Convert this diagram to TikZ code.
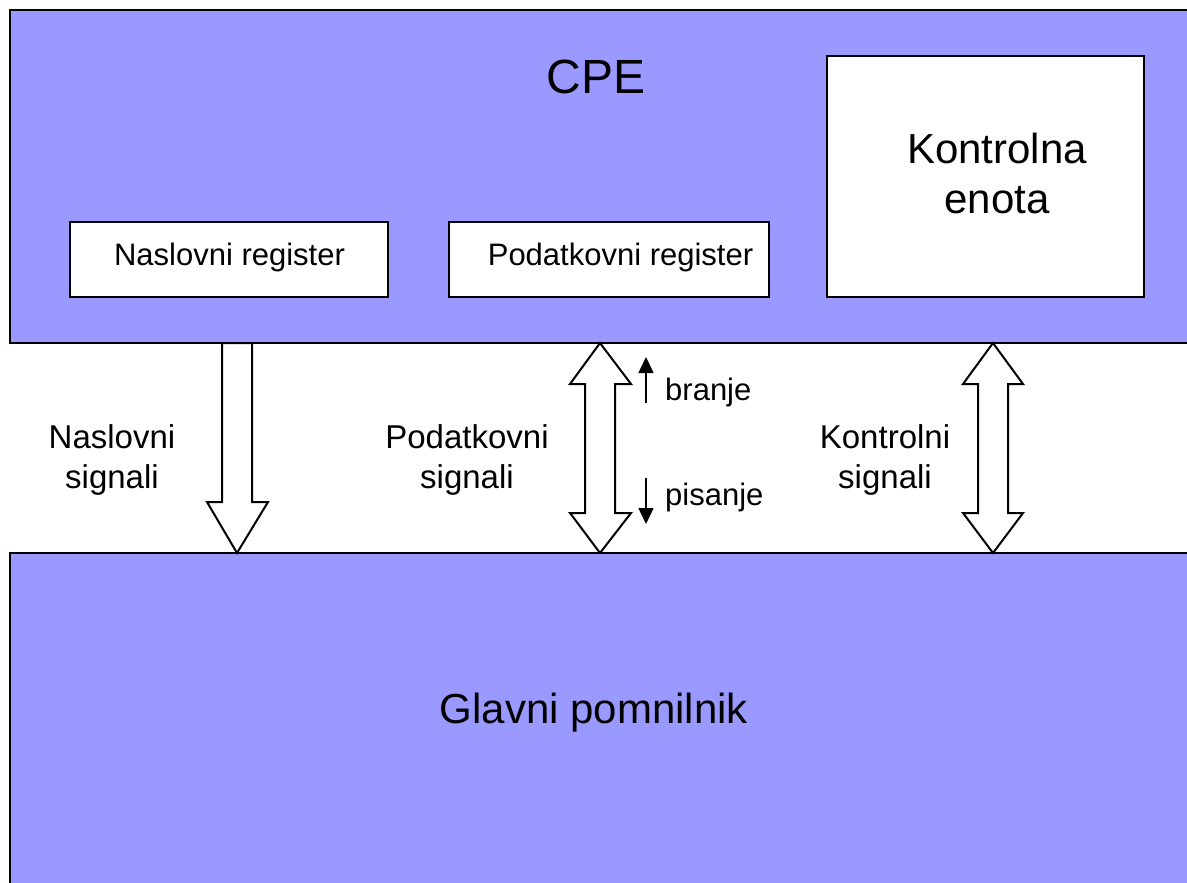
\documentclass[tikz,border=0pt]{standalone}
\usepackage{fontspec}
\setmainfont{Liberation Sans}
\usetikzlibrary{arrows.meta}
\definecolor{unitblue}{HTML}{9999FF}
\tikzset{
  unit/.style={draw=black, line width=2pt, fill=unitblue, inner sep=0pt},
  regbox/.style={draw=black, line width=2pt, fill=white, inner sep=0pt},
  bus/.style={draw=black, line width=2pt, fill=white, line join=miter},
  txt/.style={inner sep=0pt, text=black},
  lbl/.style={txt, align=center},
  dirarrow/.style={line width=1.5pt, -{Triangle[length=16pt,width=15pt]}},
}
\begin{document}
\begin{tikzpicture}[x=1pt, y=-1pt]
\useasboundingbox (0,0) rectangle (1187,883);
\clip (0,0) rectangle (1187,883);
\fill[white] (0,0) rectangle (1187,883);

% processor and main memory
\node[unit, minimum width=1190pt, minimum height=333pt] (cpe) at (605,176.5) {};
\node[unit, minimum width=1190pt, minimum height=347pt] (mem) at (605,726.5) {};

\node[txt, anchor=base, font=\fontsize{48}{58}\selectfont] (cpetext) at (596,93) {CPE};
\node[txt, anchor=base, font=\fontsize{42}{50}\selectfont] (memtext) at (594,723) {Glavni pomnilnik};

% registers and control unit
\node[regbox, minimum width=318pt, minimum height=75pt] (nr) at (229,259.5) {};
\node[regbox, minimum width=320pt, minimum height=75pt] (pr) at (609,259.5) {};
\node[regbox, minimum width=317pt, minimum height=241pt] (ke) at (985.5,176.5) {};

\node[txt, anchor=base, font=\fontsize{31}{37}\selectfont] (nrtext) at (229.5,265) {Naslovni register};
\node[txt, anchor=base, font=\fontsize{31}{37}\selectfont] (prtext) at (620.5,265) {Podatkovni register};
\node[lbl, font=\fontsize{42}{50}\selectfont] (ketext) at (997,173) {Kontrolna\\enota};

% address bus (one way, CPE to memory)
\draw[bus] (222,343) -- (252,343) -- (252,502) -- (268,502) -- (237,553)
  -- (207,502) -- (222,502) -- cycle;

% data bus (both ways)
\draw[bus] (600,343) -- (631,384) -- (615,384) -- (615,513) -- (631,513)
  -- (600,553) -- (570,513) -- (585,513) -- (585,384) -- (570,384) -- cycle;

% control bus (both ways)
\draw[bus] (993,343) -- (1023,384) -- (1008,384) -- (1008,513) -- (1023,513)
  -- (993,553) -- (963,513) -- (978,513) -- (978,384) -- (963,384) -- cycle;

% bus labels
\node[lbl, font=\fontsize{33}{40}\selectfont] (nslbl) at (112,460) {Naslovni\\signali};
\node[lbl, font=\fontsize{33}{40}\selectfont] (pslbl) at (467,460) {Podatkovni\\signali};
\node[lbl, font=\fontsize{33}{40}\selectfont] (kslbl) at (885,460) {Kontrolni\\signali};

% read / write direction
\coordinate (rdfrom) at (646,403);
\coordinate (rdto) at (646,357);
\coordinate (wrfrom) at (646,478);
\coordinate (wrto) at (646,524);
\draw[dirarrow] (rdfrom) -- (rdto);
\draw[dirarrow] (wrfrom) -- (wrto);
\node[txt, anchor=base west, font=\fontsize{31}{37}\selectfont] (rd) at (665,400) {branje};
\node[txt, anchor=base west, font=\fontsize{31}{37}\selectfont] (wr) at (665,505) {pisanje};
\end{tikzpicture}
\end{document}
